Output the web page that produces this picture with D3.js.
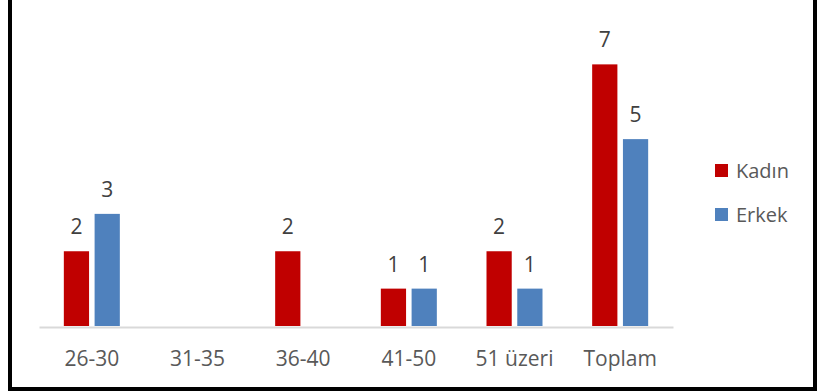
<!DOCTYPE html>
<html>
<head>
<meta charset="utf-8">
<script src="https://cdn.jsdelivr.net/npm/d3@7/dist/d3.min.js"></script>
<style>
  html, body { margin: 0; padding: 0; background: #fff; }
  svg { display: block; }
  text { font-family: "Open Sans", "Noto Sans", sans-serif; }
</style>
</head>
<body>
<svg id="chart" width="820" height="392"></svg>
<script>
// Age groups and counts per gender
const categories = ["26-30", "31-35", "36-40", "41-50", "51 üzeri", "Toplam"];
const seriesNames = ["Kadın", "Erkek"];
const kadin = [2, 0, 2, 1, 2, 7];
const erkek = [3, 0, 0, 1, 1, 5];
const colors = ["#C00000", "#4F81BD"];

const series = [kadin, erkek];

const svg = d3.select("#chart");

// Frame (open at the top)
svg.append("path")
  .attr("d", "M10,0 V389 H815 V0")
  .attr("fill", "none")
  .attr("stroke", "#000")
  .attr("stroke-width", 4);

const baseY = 326;
const x0 = d3.scaleBand()
  .domain(categories)
  .range([39, 673])
  .paddingInner(0.47)
  .paddingOuter(0.235);

const x1 = d3.scaleBand()
  .domain(seriesNames)
  .range([0, x0.bandwidth()])
  .paddingInner(0.18);

const y = d3.scaleLinear().domain([0, 8]).range([baseY, 27]);

const cellData = (c, i) => seriesNames.map((s, k) => ({ s, k, v: series[k][i] })).filter(d => d.v > 0);

// Bars
const groups = svg.append("g").selectAll("g")
  .data(categories)
  .join("g")
  .attr("transform", d => `translate(${x0(d)},0)`);

groups.selectAll("rect")
  .data(cellData)
  .join("rect")
  .attr("x", d => x1(d.s))
  .attr("y", d => y(d.v))
  .attr("width", x1.bandwidth())
  .attr("height", d => baseY - y(d.v))
  .attr("fill", d => colors[d.k]);

// Value labels
groups.selectAll("text.val")
  .data(cellData)
  .join("text")
  .attr("class", "val")
  .attr("x", d => x1(d.s) + x1.bandwidth() / 2)
  .attr("y", d => y(d.v) - 17)
  .attr("text-anchor", "middle")
  .attr("font-size", 21)
  .attr("fill", "#404040")
  .text(d => d.v);

// Category axis
const xAxis = svg.append("g")
  .attr("transform", `translate(0,${baseY + 1})`)
  .call(d3.axisBottom(x0).tickSize(0).tickPadding(0));
xAxis.select(".domain")
  .attr("stroke", "#d9d9d9")
  .attr("stroke-width", 2);
xAxis.selectAll(".tick text")
  .attr("y", 39)
  .attr("dy", 0)
  .attr("font-size", 21)
  .attr("font-family", "'Open Sans', 'Noto Sans', sans-serif")
  .attr("fill", "#595959");

// Legend
const legend = svg.append("g").selectAll("g")
  .data(seriesNames)
  .join("g")
  .attr("transform", (d, i) => `translate(715,${164 + i * 44})`);
legend.append("rect")
  .attr("width", 13)
  .attr("height", 13)
  .attr("fill", (d, i) => colors[i]);
legend.append("text")
  .attr("x", 21)
  .attr("y", 14)
  .attr("font-size", 20)
  .attr("fill", "#595959")
  .text(d => d);
</script>
</body>
</html>
